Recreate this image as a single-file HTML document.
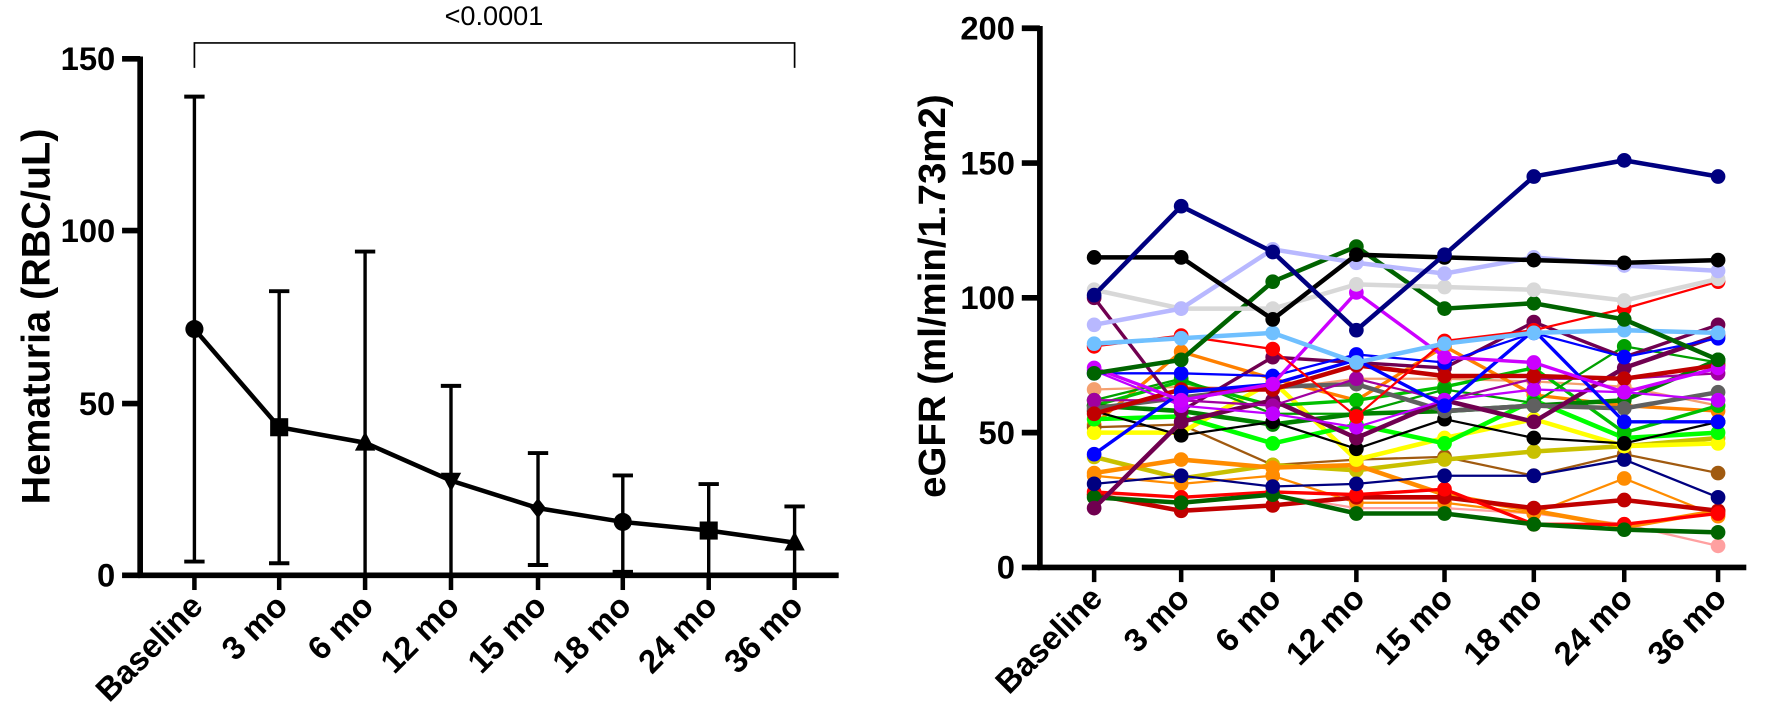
<!DOCTYPE html>
<html><head><meta charset="utf-8"><style>
body{margin:0;background:#fff}
svg text{font-family:"Liberation Sans",sans-serif;font-weight:bold;fill:#000}
</style></head><body>
<svg width="1770" height="723" xmlns="http://www.w3.org/2000/svg">
<g transform="scale(1.1303)">
<g stroke="#000" stroke-width="5" fill="none">
<line x1="124" y1="50" x2="124" y2="511"/>
<line x1="122" y1="509" x2="742" y2="509"/>
</g>
<g stroke="#000" stroke-width="5">
<line x1="108" y1="52" x2="124" y2="52"/><line x1="108" y1="204" x2="124" y2="204"/><line x1="108" y1="357" x2="124" y2="357"/><line x1="108" y1="509" x2="124" y2="509"/>
</g>
<g font-size="29" text-anchor="end">
<text x="102" y="62">150</text><text x="102" y="214">100</text><text x="102" y="367">50</text><text x="102" y="519">0</text>
</g>
<text transform="translate(44,280) rotate(-90)" font-size="35" text-anchor="middle">Hematuria (RBC/uL)</text>
<g stroke="#000" stroke-width="1.5" fill="none"><polyline points="172,60 172,38 703,38 703,60"/></g>
<text x="437" y="22" font-size="24" text-anchor="middle" style="font-weight:normal">&lt;0.0001</text>
<g id="left"></g>
<g stroke="#000" stroke-width="5" fill="none">
<line x1="920" y1="23" x2="920" y2="504"/>
<line x1="918" y1="502" x2="1545" y2="502"/>
</g>
<text transform="translate(836,262) rotate(-90)" font-size="34" text-anchor="middle">eGFR (ml/min/1.73m2)</text>
<g id="right"></g>
</g>
</svg>
<script>
const NS="http://www.w3.org/2000/svg";
function el(p,t,a){const e=document.createElementNS(NS,t);for(const k in a)e.setAttribute(k,a[k]);p.appendChild(e);return e;}
const labels=["Baseline","3 mo","6 mo","12 mo","15 mo","18 mo","24 mo","36 mo"];
const L=document.getElementById("left"),R=document.getElementById("right");
const lx=[172,247,323,399,476,551,627,703];
const ly=v=>509-v*3.047;
lx.forEach((x,i)=>{el(L,"line",{x1:x,y1:509,x2:x,y2:522,stroke:"#000","stroke-width":4});
 const t=el(L,"text",{transform:`translate(${x+9},${538}) rotate(-45)`,"font-size":29,"text-anchor":"end"});t.textContent=labels[i];});
const mean=[71.5,43,38.5,27.5,19.5,15.5,13,9.5],up=[139,82.5,94,55,35.5,29,26.5,20],lo=[4,3.5,0,0,3,1,0,0];
lx.forEach((x,i)=>{el(L,"line",{x1:x,y1:ly(up[i]),x2:x,y2:ly(lo[i]),stroke:"#000","stroke-width":3});
 el(L,"line",{x1:x-9,y1:ly(up[i]),x2:x+9,y2:ly(up[i]),stroke:"#000","stroke-width":3.5});
 if(lo[i]>0.5)el(L,"line",{x1:x-9,y1:ly(lo[i]),x2:x+9,y2:ly(lo[i]),stroke:"#000","stroke-width":3.5});});
el(L,"polyline",{points:lx.map((x,i)=>x+","+ly(mean[i])).join(" "),fill:"none",stroke:"#000","stroke-width":4});
const sh=["c","s","t","v","d","c","s","t"];
lx.forEach((x,i)=>{const y=ly(mean[i]);
 if(sh[i]=="c")el(L,"circle",{cx:x,cy:y,r:8});
 else if(sh[i]=="s")el(L,"rect",{x:x-8,y:y-8,width:16,height:16});
 else if(sh[i]=="t")el(L,"polygon",{points:`${x},${y-10} ${x+9},${y+7} ${x-9},${y+7}`});
 else if(sh[i]=="v")el(L,"polygon",{points:`${x},${y+10} ${x+9},${y-7} ${x-9},${y-7}`});
 else el(L,"polygon",{points:`${x},${y-9} ${x+7},${y} ${x},${y+9} ${x-7},${y}`});});
const rx=[968,1045,1126,1200,1278,1357,1437,1520];
const ry=v=>502-v*2.385;
[0,50,100,150,200].forEach(v=>{el(R,"line",{x1:904,y1:ry(v),x2:920,y2:ry(v),stroke:"#000","stroke-width":5});
 const t=el(R,"text",{x:898,y:ry(v)+10,"font-size":29,"text-anchor":"end"});t.textContent=v;});
rx.forEach((x,i)=>{el(R,"line",{x1:x,y1:502,x2:x,y2:515,stroke:"#000","stroke-width":4});
 const t=el(R,"text",{transform:`translate(${x+9},${531}) rotate(-45)`,"font-size":29,"text-anchor":"end"});t.textContent=labels[i];});
const S=[
["#f4a070",2,[66,67,66,70,70,69,67,60]],
["#ff8000",3,[53,80,70,62,82,64,60,58]],
["#a05a10",2,[52,53,38,40,41,34,42,35]],
["#c8c000",4,[41,33,38,36,40,43,45,48]],
["#ffa0a0",2,[27,24,27,22,22,20,16,8]],
["#ff8c00",2,[34,31,34,24,24,20,33,19]],
["#ff8c00",4,[35,40,37,38,27,21,15,21]],
["#c00000",4,[27,21,23,26,26,22,25,21]],
["#ff0000",3,[28,26,28,27,29,16,16,20]],
["#006400",4,[26,24,27,20,20,16,14,13]],
["#000080",2,[31,34,30,31,34,34,40,26]],
["#ffff00",4,[50,50,69,40,48,55,45,46]],
["#00ff00",4,[55,56,46,53,46,62,48,50]],
["#00c000",3,[60,69,60,62,67,74,50,60]],
["#00a000",2,[62,70,57,57,66,61,82,76]],
["#008000",4,[60,58,53,57,58,60,62,77]],
["#000000",2,[58,49,54,44,55,48,46,54]],
["#606060",4,[59,63,67,68,58,60,59,65]],
["#700050",4,[22,54,62,48,62,54,74,86]],
["#700050",3,[100,58,78,76,74,91,78,90]],
["#a000a0",2,[62,62,60,70,62,70,70,72]],
["#c000ff",2,[73,60,57,52,62,66,65,62]],
["#c00000",4,[57,66,66,75,71,71,70,75]],
["#0000ff",3,[42,65,68,77,60,88,54,54]],
["#0000ff",2,[72,72,71,79,76,87,78,85]],
["#cc00ff",3,[74,62,68,102,78,76,65,74]],
["#ff0000",2,[82,86,81,56,84,88,96,106]],
["#70c0ff",4,[83,85,87,76,83,87,88,87]],
["#006400",4,[72,77,106,119,96,98,92,77]],
["#d8d8d8",4,[103,96,96,105,104,103,99,107]],
["#b8b8ff",4,[90,96,118,113,109,115,112,110]],
["#000000",4,[115,115,92,116,115,114,113,114]],
["#000080",4,[101,134,117,88,116,145,151,145]],
];
S.forEach(([c,w,v])=>{el(R,"polyline",{points:rx.map((x,i)=>x+","+ry(v[i])).join(" "),fill:"none",stroke:c,"stroke-width":w});
 rx.forEach((x,i)=>el(R,"circle",{cx:x,cy:ry(v[i]),r:6.5,fill:c}));});
</script>
</body></html>
